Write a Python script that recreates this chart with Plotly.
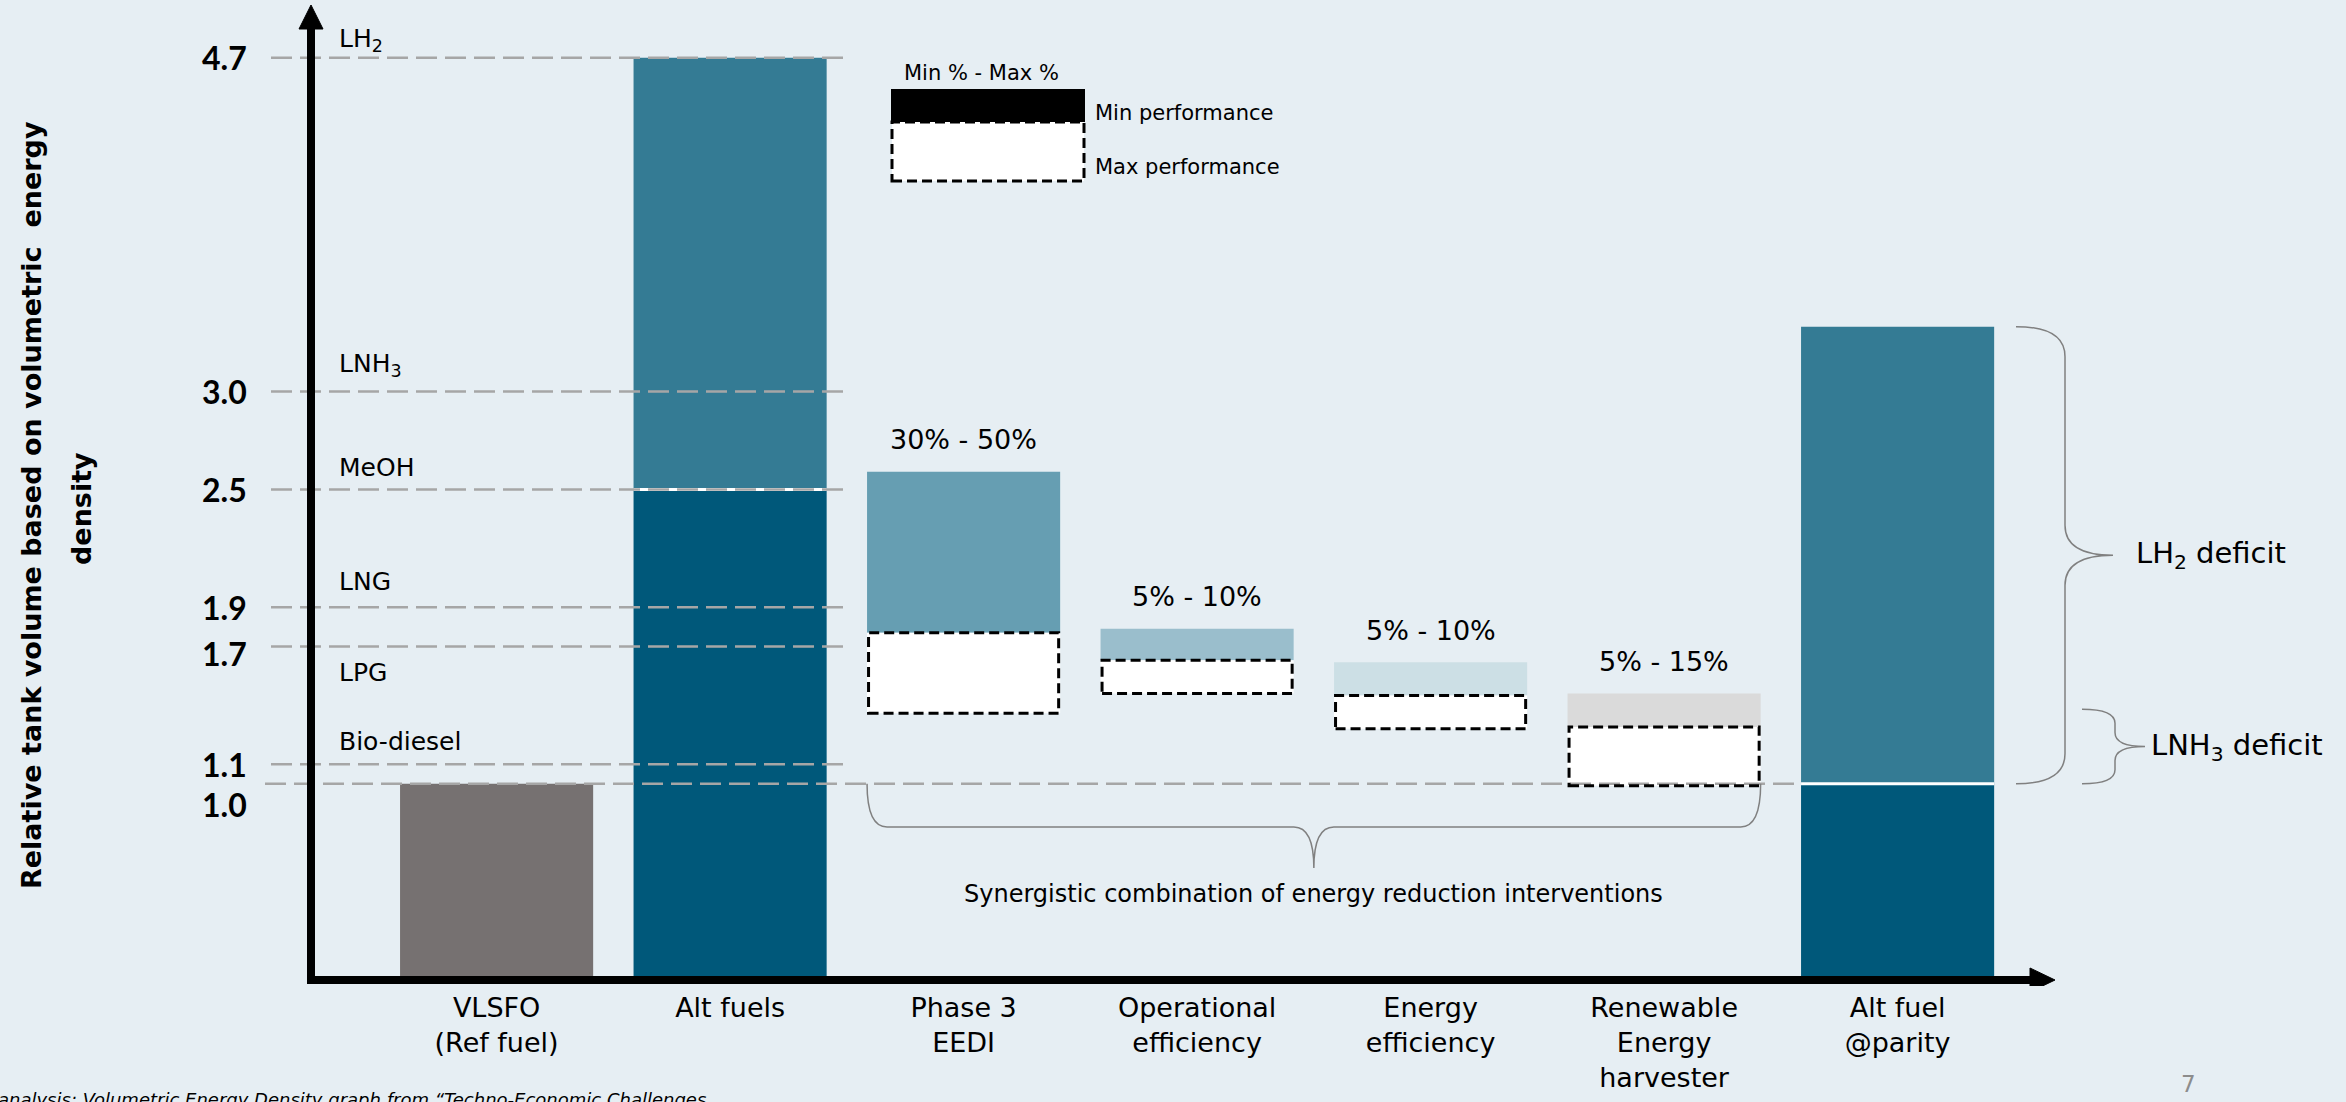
import plotly.graph_objects as go

# ---------------- data ----------------
categories = ["VLSFO<br>(Ref fuel)", "Alt fuels", "Phase 3<br>EEDI",
              "Operational<br>efficiency", "Energy<br>efficiency",
              "Renewable<br>Energy<br>harvester", "Alt fuel<br>@parity"]

# reference / base part of the fuel bars
base_idx = [0, 1, 6]
base_top = [1.0, 2.5, 1.0]

# upper (lighter) part of the fuel bars
uplift_idx = [1, 6]
uplift_bottom = [2.5, 1.0]
uplift_top = [4.7, 3.33]

# energy reduction interventions
interv_idx = [2, 3, 4, 5]
interv_labels = ["30% - 50%", "5% - 10%", "5% - 10%", "5% - 15%"]
min_perf_top = [2.59, 1.79, 1.62, 1.46]
max_perf_top = [1.77, 1.63, 1.45, 1.29]
max_perf_bottom = [1.36, 1.46, 1.28, 0.99]

# volumetric energy density reference lines
fuel_names = ["LH<sub>2</sub>", "LNH<sub>3</sub>", "MeOH", "LNG", "LPG", "Bio-diesel"]
fuel_values = [4.7, 3.0, 2.5, 1.9, 1.7, 1.1]
ref_value = 1.0

# deficits at parity
deficit_names = ["LH<sub>2</sub> deficit", "LNH<sub>3</sub> deficit"]
deficit_bottom = [1.0, 1.0]
deficit_top = [3.33, 1.38]

# ---------------- styles ----------------
BG = "#E6EEF3"
base_colors = ["#767171", "#00587A", "#00587A"]
uplift_color = "#347B94"
interv_colors = ["#669EB2", "#9ABECC", "#CCDFE5", "#DADADA"]
GRID = "#A6A6A6"
BRACE = "#808080"
FONT = "DejaVu Sans"

W, H = 2346, 1102
X0PX, XS = 496.6, 233.5     # pixel of category 0, pixels per category
Y0PX, YS = 980.0, 196.2     # pixel of value 0, pixels per unit
MB = 116
PLOT_H = H - MB
BAR_W = 0.827


def px_x(p):
    return (p - X0PX) / XS


def px_y(p):
    return (Y0PX - p) / YS


def dxp(p):
    return p / XS


def dyp(p):
    return p / YS


def paper_x(p):
    return p / W


def paper_y(p):
    return (PLOT_H - p) / PLOT_H


fig = go.Figure()

fig.add_trace(go.Bar(x=base_idx, y=base_top, base=[0] * len(base_idx), width=BAR_W,
                     marker=dict(color=base_colors, line=dict(width=0)), hoverinfo="skip"))
fig.add_trace(go.Bar(x=uplift_idx, y=[t - b for t, b in zip(uplift_top, uplift_bottom)],
                     base=uplift_bottom, width=BAR_W,
                     marker=dict(color=uplift_color, line=dict(width=0)), hoverinfo="skip"))
fig.add_trace(go.Bar(x=interv_idx, y=[t - b for t, b in zip(min_perf_top, max_perf_top)],
                     base=max_perf_top, width=BAR_W,
                     marker=dict(color=interv_colors, line=dict(width=0)), hoverinfo="skip"))
fig.add_trace(go.Bar(x=interv_idx, y=[t - b for t, b in zip(max_perf_top, max_perf_bottom)],
                     base=max_perf_bottom, width=BAR_W,
                     marker=dict(color="white", line=dict(width=0)), hoverinfo="skip"))

shapes = []
annotations = []

# white separators in stacked fuel bars
for i, b in zip(uplift_idx, uplift_bottom):
    shapes.append(dict(type="line", xref="x", yref="y", x0=i - BAR_W / 2, x1=i + BAR_W / 2,
                       y0=b, y1=b, line=dict(color="white", width=3)))

# dashed reference lines
for v in fuel_values:
    shapes.append(dict(type="line", xref="x", yref="y", x0=px_x(271), x1=px_x(849), y0=v, y1=v,
                       line=dict(color=GRID, width=2.5, dash="21px,8px")))
shapes.append(dict(type="line", xref="x", yref="y", x0=px_x(265), x1=6 - BAR_W / 2,
                   y0=ref_value, y1=ref_value, line=dict(color=GRID, width=2.5, dash="21px,8px")))

# dashed outline of max performance
for i, b, t in zip(interv_idx, max_perf_bottom, max_perf_top):
    shapes.append(dict(type="rect", xref="x", yref="y", x0=i - BAR_W / 2 + dxp(1.5),
                       x1=i + BAR_W / 2 - dxp(1.5), y0=b, y1=t,
                       line=dict(color="black", width=3, dash="10px,5px")))

# legend
shapes.append(dict(type="rect", xref="x", yref="y", x0=px_x(891), x1=px_x(1085),
                   y0=px_y(122), y1=px_y(89), fillcolor="black", line=dict(width=0)))
shapes.append(dict(type="rect", xref="x", yref="y", x0=px_x(892), x1=px_x(1084),
                   y0=px_y(181), y1=px_y(122), fillcolor="white",
                   line=dict(color="black", width=3, dash="10px,5px")))
annotations.append(dict(x=px_x(981), y=px_y(73), text="Min % - Max %", showarrow=False,
                        xanchor="center", yanchor="middle", font=dict(family=FONT, size=21, color="black")))
annotations.append(dict(x=px_x(1093), y=px_y(113), text="Min performance", showarrow=False,
                        xanchor="left", yanchor="middle", font=dict(family=FONT, size=21, color="black")))
annotations.append(dict(x=px_x(1093), y=px_y(167), text="Max performance", showarrow=False,
                        xanchor="left", yanchor="middle", font=dict(family=FONT, size=21, color="black")))


def hbrace(xl, xr, y_end, y_mid, y_tip, r):
    xc = (xl + xr) / 2
    return (f"M {xl},{y_end} Q {xl},{y_mid} {xl + r},{y_mid} L {xc - r},{y_mid} "
            f"Q {xc},{y_mid} {xc},{y_tip} Q {xc},{y_mid} {xc + r},{y_mid} "
            f"L {xr - r},{y_mid} Q {xr},{y_mid} {xr},{y_end}")


def vbrace(x_end, x_mid, x_tip, y_top, y_bot, r):
    yc = (y_top + y_bot) / 2
    return (f"M {x_end},{y_top} Q {x_mid},{y_top} {x_mid},{y_top - r} L {x_mid},{yc + r} "
            f"Q {x_mid},{yc} {x_tip},{yc} Q {x_mid},{yc} {x_mid},{yc - r} "
            f"L {x_mid},{y_bot + r} Q {x_mid},{y_bot} {x_end},{y_bot}")


# bottom brace over interventions
xl = interv_idx[0] - BAR_W / 2
xr = interv_idx[-1] + BAR_W / 2
shapes.append(dict(type="path", xref="x", yref="y",
                   path=hbrace(xl, xr, ref_value, px_y(827), px_y(868), dxp(20)),
                   line=dict(color=BRACE, width=1.5)))
annotations.append(dict(x=(xl + xr) / 2, y=px_y(894),
                        text="Synergistic combination of energy reduction interventions",
                        showarrow=False, xanchor="center", yanchor="middle",
                        font=dict(family=FONT, size=24, color="black")))

# deficit braces on the right
brace_px = [(2016, 2065, 2113, 30, 2134), (2082, 2115, 2145, 14, 2149)]
for name, b, t, (xe, xm, xt, r, xtxt) in zip(deficit_names, deficit_bottom, deficit_top, brace_px):
    shapes.append(dict(type="path", xref="x", yref="y",
                       path=vbrace(px_x(xe), px_x(xm), px_x(xt), t, b, dyp(r)),
                       line=dict(color=BRACE, width=1.5)))
    annotations.append(dict(x=px_x(xtxt), y=(t + b) / 2, text=name, showarrow=False,
                            xanchor="left", yanchor="middle",
                            font=dict(family=FONT, size=29, color="black")))

# axes with arrows
shapes.append(dict(type="line", xref="x", yref="y", x0=px_x(311), x1=px_x(311),
                   y0=px_y(984), y1=px_y(27), line=dict(color="black", width=8)))
shapes.append(dict(type="path", xref="x", yref="y",
                   path=f"M {px_x(299)},{px_y(29)} L {px_x(311)},{px_y(5)} L {px_x(323)},{px_y(29)} Z",
                   fillcolor="black", line=dict(color="black", width=1)))
shapes.append(dict(type="line", xref="x", yref="y", x0=px_x(307), x1=px_x(2032),
                   y0=0, y1=0, line=dict(color="black", width=8)))
shapes.append(dict(type="path", xref="x", yref="y",
                   path=f"M {px_x(2030)},{px_y(968)} L {px_x(2055)},{px_y(980)} L {px_x(2030)},{px_y(992)} Z",
                   fillcolor="black", line=dict(color="black", width=1)))

# y tick labels
tick_vals = fuel_values + [ref_value]
tick_shift = [0, 0, 0, 0, -7, 0, -21]
for v, s in zip(tick_vals, tick_shift):
    annotations.append(dict(x=px_x(249), y=v, yshift=s, text=f"{v:.1f}", showarrow=False,
                            xanchor="right", yanchor="middle",
                            font=dict(family="Lato", size=32, color="black", weight="bold")))

# fuel labels
label_shift = [18, 26, 22, 26, -26, 23]
for name, v, s in zip(fuel_names, fuel_values, label_shift):
    annotations.append(dict(x=px_x(337), y=v, yshift=s, text=name, showarrow=False,
                            xanchor="left", yanchor="middle",
                            font=dict(family=FONT, size=25, color="black")))

# intervention percentage labels
for i, t, lab in zip(interv_idx, min_perf_top, interv_labels):
    annotations.append(dict(x=i, y=t, yshift=32, text=lab, showarrow=False,
                            xanchor="center", yanchor="middle",
                            font=dict(family=FONT, size=27, color="black")))

# y axis title (two lines)
annotations.append(dict(x=px_x(31), y=px_y(505), text="Relative tank volume based on volumetric  energy",
                        textangle=-90, showarrow=False, xanchor="center", yanchor="middle",
                        font=dict(family=FONT, size=27, color="black", weight="bold")))
annotations.append(dict(x=px_x(81), y=px_y(509), text="density",
                        textangle=-90, showarrow=False, xanchor="center", yanchor="middle",
                        font=dict(family=FONT, size=27, color="black", weight="bold")))

# source note and page number (outside the plotting range -> paper coordinates)
annotations.append(dict(xref="paper", yref="paper", x=paper_x(-4), y=paper_y(1087),
                        text="analysis: Volumetric Energy Density graph from \u201cTechno-Economic Challenges",
                        showarrow=False, xanchor="left", yanchor="top",
                        font=dict(family=FONT, size=18, color="black", style="italic")))
annotations.append(dict(xref="paper", yref="paper", x=paper_x(2188), y=paper_y(1084), text="7",
                        showarrow=False, xanchor="center", yanchor="middle",
                        font=dict(family=FONT, size=23, color="#8C8C8C")))

fig.update_layout(
    width=W, height=H, autosize=False,
    margin=dict(l=0, r=0, t=0, b=MB, pad=0),
    paper_bgcolor=BG, plot_bgcolor=BG,
    barmode="overlay", showlegend=False,
    shapes=shapes, annotations=annotations,
    xaxis=dict(range=[px_x(0), px_x(W)], tickmode="array",
               tickvals=list(range(len(categories))), ticktext=categories,
               tickfont=dict(family=FONT, size=27, color="black"),
               ticks="", showgrid=False, zeroline=False, showline=False,
               ticklabelstandoff=3, fixedrange=True),
    yaxis=dict(range=[px_y(H - MB), px_y(0)], visible=False, showgrid=False,
               zeroline=False, fixedrange=True),
)

fig.write_html("out.html")
